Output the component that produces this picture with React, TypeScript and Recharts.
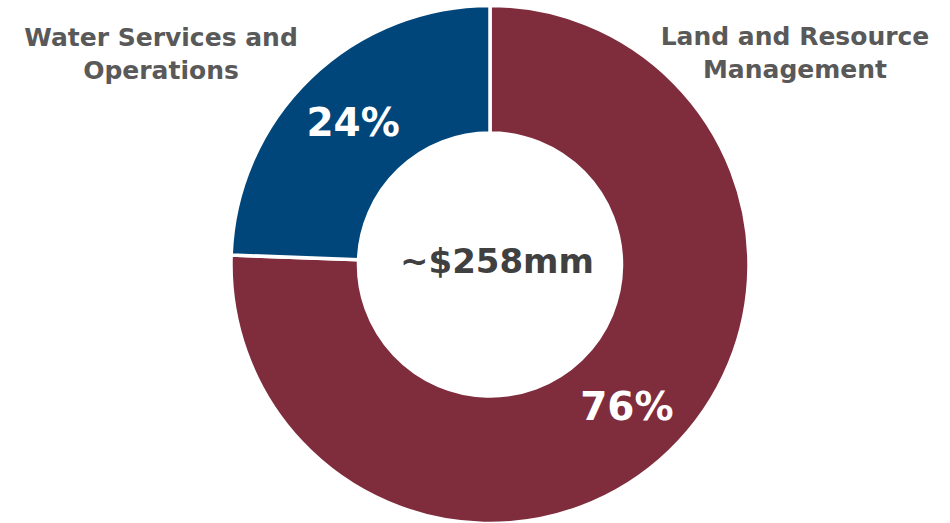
import React from "react";
import { Cell, Pie, PieChart } from "recharts";

// Spend by segment, $mm (total ~258)
const segments = ["Land and Resource Management", "Water Services and Operations"];
const labelLines = [
  ["Land and Resource", "Management"],
  ["Water Services and", "Operations"],
];
const amounts = [195, 63];
const shareLabels = ["76%", "24%"];
const colors = ["#7F2C3D", "#00467A"];
const centerLabel = "~$258mm";

const data = segments.map((name, i) => ({ name, value: amounts[i], share: shareLabels[i] }));

const FONT = "'DejaVu Sans', sans-serif";
const RAD = Math.PI / 180;

function renderShare(props: any) {
  const { cx, cy, midAngle, innerRadius, outerRadius, payload } = props;
  const r = (innerRadius + outerRadius) / 2 + 2;
  const x = cx + r * Math.cos(-midAngle * RAD);
  const y = cy + r * Math.sin(-midAngle * RAD);
  return (
    <text
      x={x}
      y={y}
      fill="#ffffff"
      textAnchor="middle"
      dominantBaseline="central"
      style={{ fontFamily: FONT, fontWeight: 700, fontSize: 39 }}
    >
      {payload.share}
    </text>
  );
}

const catStyle: React.CSSProperties = {
  position: "absolute",
  width: 320,
  textAlign: "center",
  fontFamily: FONT,
  fontWeight: 700,
  fontSize: 25,
  lineHeight: "33px",
  color: "#595959",
};

export default function App() {
  return (
    <div style={{ position: "absolute", left: 0, top: 0, width: 950, height: 523, background: "#fff" }}>
      <PieChart width={950} height={523} margin={{ top: 0, right: 0, bottom: 0, left: 0 }}>
        <Pie
          data={data}
          dataKey="value"
          nameKey="name"
          cx={490}
          cy={264.5}
          innerRadius={131.5}
          outerRadius={259}
          startAngle={90}
          endAngle={-270}
          stroke="#ffffff"
          strokeWidth={3.5}
          label={renderShare}
          labelLine={false}
          isAnimationActive={false}
        >
          {data.map((d, i) => (
            <Cell key={d.name} fill={colors[i]} />
          ))}
        </Pie>
      </PieChart>
      <div style={{ ...catStyle, left: 635, top: 20 }}>
        {labelLines[0].map((l) => (
          <div key={l}>{l}</div>
        ))}
      </div>
      <div style={{ ...catStyle, left: 1, top: 21 }}>
        {labelLines[1].map((l) => (
          <div key={l}>{l}</div>
        ))}
      </div>
      <div
        style={{
          position: "absolute",
          left: 394,
          width: 206,
          top: 239,
          textAlign: "center",
          fontFamily: FONT,
          fontWeight: 700,
          fontSize: 34,
          lineHeight: "44px",
          color: "#404040",
        }}
      >
        {centerLabel}
      </div>
    </div>
  );
}
